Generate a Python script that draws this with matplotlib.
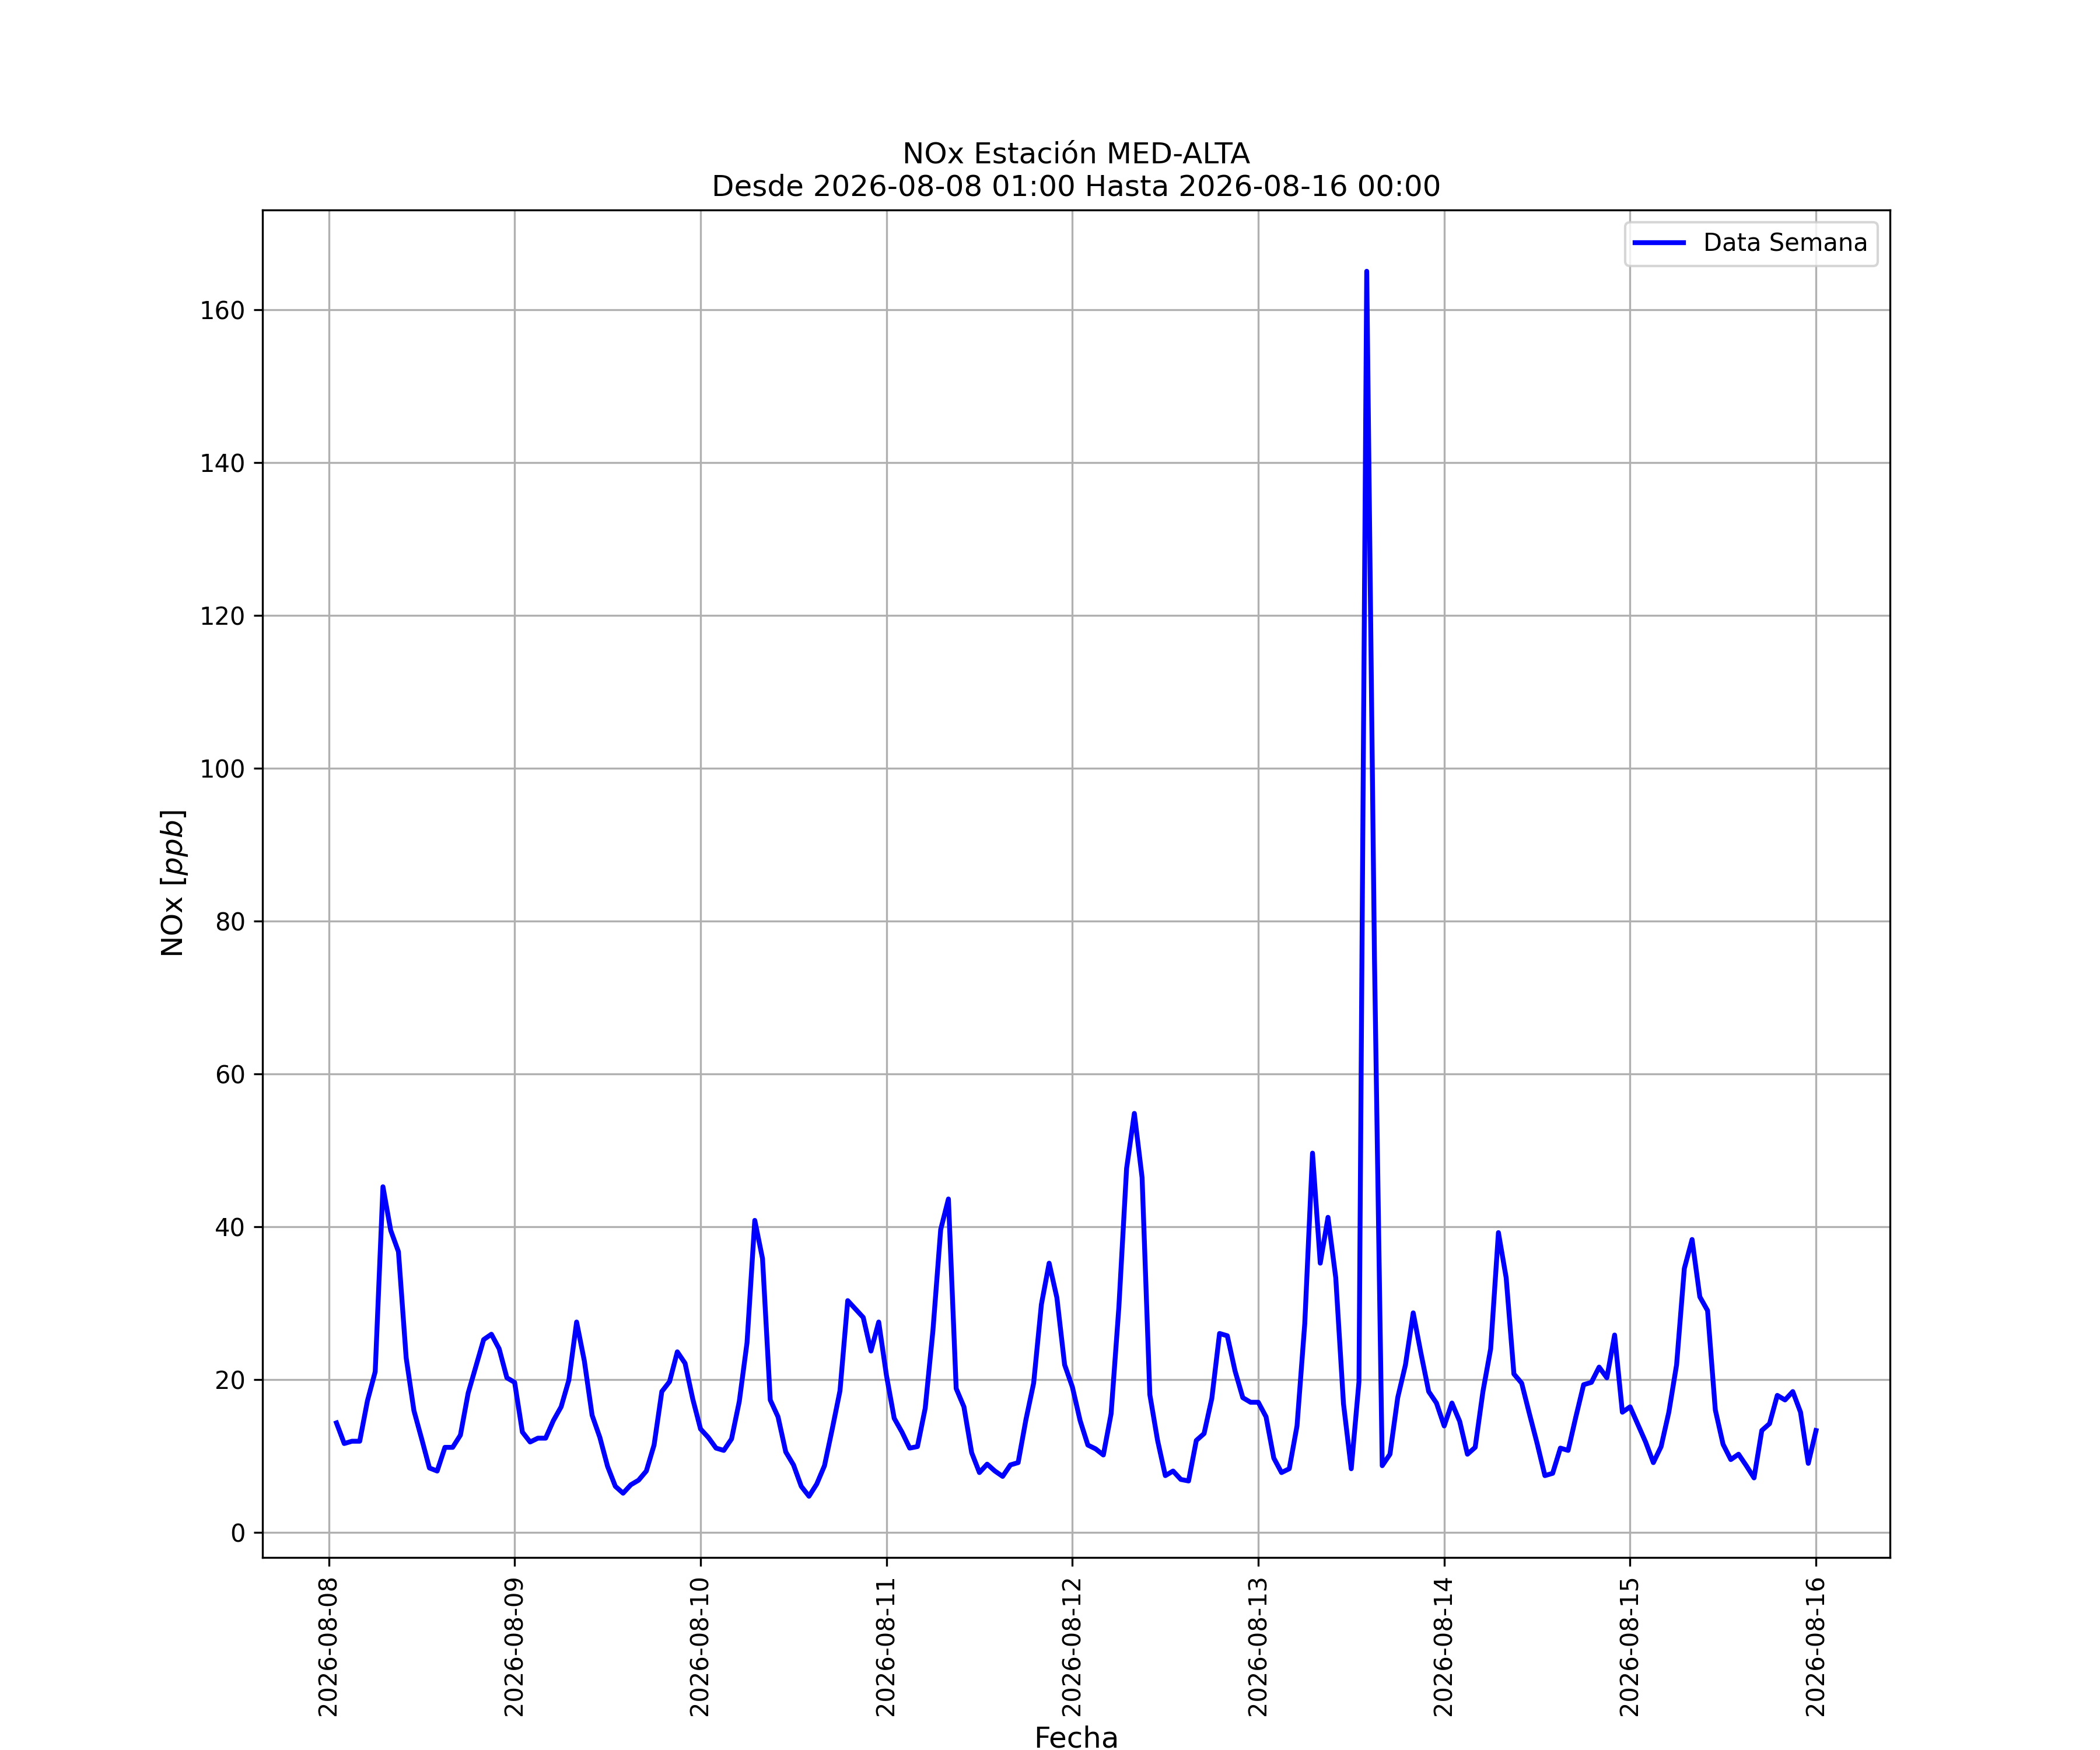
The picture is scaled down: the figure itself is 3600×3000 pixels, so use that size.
import matplotlib
matplotlib.use("Agg")
import matplotlib.pyplot as plt
import matplotlib.dates as mdates
import pandas as pd

# Hourly NOx values [ppb], 01:00 of each day through 00:00 of the next
dia_08 = [14.3, 11.6, 11.9, 11.9, 17.2, 21.0, 45.2, 39.5, 36.7, 22.8, 15.9, 12.2,
          8.4, 8.0, 11.1, 11.1, 12.7, 18.2, 21.7, 25.2, 25.9, 24.0, 20.2, 19.6]
dia_09 = [13.1, 11.8, 12.3, 12.3, 14.6, 16.4, 19.9, 27.5, 22.4, 15.3, 12.4, 8.6,
          6.0, 5.1, 6.2, 6.8, 8.0, 11.4, 18.4, 19.7, 23.6, 22.1, 17.4, 13.5]
dia_10 = [12.4, 11.0, 10.7, 12.2, 17.1, 24.8, 40.8, 35.8, 17.3, 15.1, 10.5, 8.8,
          6.0, 4.7, 6.3, 8.7, 13.5, 18.5, 30.3, 29.2, 28.1, 23.7, 27.5, 20.5]
dia_11 = [14.9, 13.1, 11.0, 11.2, 16.2, 26.4, 39.6, 43.6, 18.8, 16.4, 10.4, 7.8,
          8.9, 8.0, 7.3, 8.8, 9.1, 14.7, 19.5, 29.8, 35.2, 30.7, 21.9, 19.0]
dia_12 = [14.6, 11.4, 10.9, 10.1, 15.5, 29.4, 47.6, 54.8, 46.4, 18.0, 12.0, 7.4,
          8.0, 6.9, 6.7, 12.0, 12.9, 17.5, 26.0, 25.7, 21.1, 17.6, 17.0, 17.0]
dia_13 = [15.1, 9.7, 7.8, 8.3, 13.9, 27.3, 49.6, 35.2, 41.2, 33.3, 16.8, 8.3,
          19.7, 165.0, 75.0, 8.7, 10.2, 17.6, 21.9, 28.7, 23.4, 18.4, 16.9, 13.9]
dia_14 = [16.9, 14.5, 10.2, 11.1, 18.4, 24.0, 39.2, 33.3, 20.7, 19.5, 15.5, 11.6,
          7.4, 7.7, 11.0, 10.7, 15.1, 19.3, 19.6, 21.6, 20.2, 25.8, 15.7, 16.4]
dia_15 = [14.1, 11.8, 9.1, 11.2, 15.7, 21.9, 34.5, 38.3, 30.8, 29.0, 16.0, 11.5,
          9.5, 10.2, 8.7, 7.1, 13.3, 14.2, 17.9, 17.3, 18.4, 15.7, 9.0, 13.3]

nox = dia_08 + dia_09 + dia_10 + dia_11 + dia_12 + dia_13 + dia_14 + dia_15
fechas = pd.date_range("2026-08-08 01:00", periods=len(nox), freq="h")

fig = plt.figure(figsize=(12, 10), dpi=300)
ax = fig.add_subplot(111)
ax.plot(fechas, nox, color="blue", linewidth=2, label="Data Semana")

ax.set_title("NOx Estación MED-ALTA\nDesde 2026-08-08 01:00 Hasta 2026-08-16 00:00",
             fontsize=12)
ax.set_xlabel("Fecha", fontsize=12)
ax.set_ylabel("NOx [$ppb$]", fontsize=12)
ax.xaxis.set_major_locator(mdates.DayLocator())
ax.xaxis.set_major_formatter(mdates.DateFormatter("%Y-%m-%d"))
plt.setp(ax.get_xticklabels(), rotation=90)
ax.grid(True)
ax.legend(loc="upper right")

fig.savefig("out.png", dpi=300)
